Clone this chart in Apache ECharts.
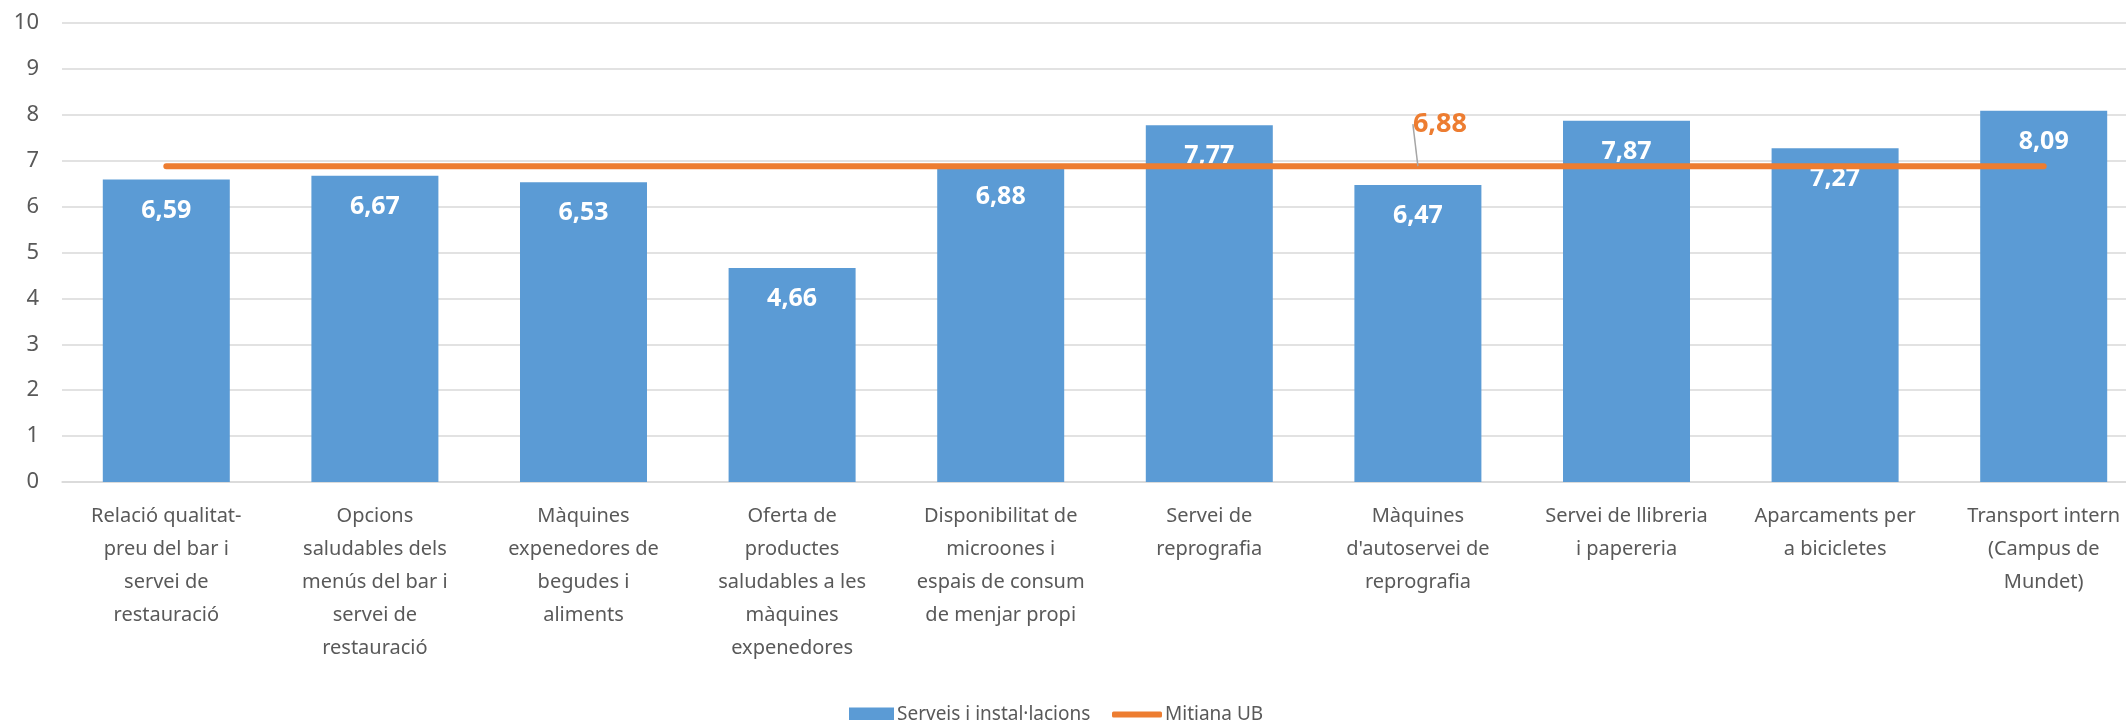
<!DOCTYPE html>
<html>
<head>
<meta charset="utf-8">
<script src="https://cdn.jsdelivr.net/npm/echarts@6/dist/echarts.min.js"></script>
<style>
  html, body { margin: 0; padding: 0; background: #fff; }
  #chart { width: 2126px; height: 720px; }
</style>
</head>
<body>
<div id="chart"></div>
<script>
// categories (line breaks as in the original axis)
const categories = [
  'Relació qualitat-\npreu del bar i\nservei de\nrestauració',
  'Opcions\nsaludables dels\nmenús del bar i\nservei de\nrestauració',
  'Màquines\nexpenedores de\nbegudes i\naliments',
  'Oferta de\nproductes\nsaludables a les\nmàquines\nexpenedores',
  'Disponibilitat de\nmicroones i\nespais de consum\nde menjar propi',
  'Servei de\nreprografia',
  'Màquines\nd\'autoservei de\nreprografia',
  'Servei de llibreria\ni papereria',
  'Aparcaments per\na bicicletes',
  'Transport intern\n(Campus de\nMundet)'
];
const serveis = [6.59, 6.67, 6.53, 4.66, 6.88, 7.77, 6.47, 7.87, 7.27, 8.09];
const mitjana = [6.88, 6.88, 6.88, 6.88, 6.88, 6.88, 6.88, 6.88, 6.88, 6.88];
const mitjanaLabelIndex = 6;

const font = 'Noto Sans';
const fmt = v => v.toFixed(2).replace('.', ',');

let chart = echarts.init(document.getElementById('chart'));
let option = {
  animation: false,
  textStyle: { fontFamily: font },
  // el gràfic original queda tallat per la dreta
  grid: { left: 62, top: 23, width: 2086, height: 459, outerBoundsMode: 'none' },
  legend: [
    {
      data: [{ name: 'Serveis i instal·lacions', icon: 'rect' }],
      left: 844, top: 700,
      itemWidth: 45, itemHeight: 14, itemGap: 4,
      textStyle: { color: '#595959', fontSize: 19, fontFamily: font, padding: [0, 0, 0, -2] }
    },
    {
      data: [{ name: 'Mitjana UB', icon: 'roundRect' }],
      left: 1107, top: 700,
      itemWidth: 50, itemHeight: 6,
      textStyle: { color: '#595959', fontSize: 19, fontFamily: font, padding: [0, 0, 0, -2] }
    }
  ],
  xAxis: {
    type: 'category',
    data: categories,
    axisTick: { show: false },
    axisLine: { lineStyle: { color: '#d9d9d9', width: 1.5 } },
    axisLabel: {
      interval: 0, margin: 18,
      color: '#595959', fontSize: 20, lineHeight: 33, fontFamily: font
    }
  },
  yAxis: {
    type: 'value',
    min: 0, max: 10, interval: 1,
    axisLine: { show: false },
    axisTick: { show: false },
    splitLine: { lineStyle: { color: '#d9d9d9', width: 1.5 } },
    axisLabel: { margin: 23, color: '#595959', fontSize: 22, fontFamily: font }
  },
  series: [
    {
      name: 'Serveis i instal·lacions',
      type: 'bar',
      data: serveis,
      barWidth: 127,
      itemStyle: { color: '#5b9bd5' },
      label: {
        show: true, position: 'insideTop', distance: 16,
        color: '#fff', fontWeight: 'bold', fontSize: 25, lineHeight: 30, fontFamily: font,
        formatter: p => fmt(p.value)
      }
    },
    {
      name: 'Mitjana UB',
      type: 'line',
      z: 5,
      data: mitjana.map((v, i) => i === mitjanaLabelIndex ? {
        value: v,
        label: {
          show: true, position: 'top', distance: 5,
          color: '#ed7d31', fontWeight: 'bold', fontSize: 27, lineHeight: 30, fontFamily: font,
          formatter: p => fmt(p.value)
        },
        labelLine: { show: true, lineStyle: { color: '#a6a6a6', width: 1.5 } }
      } : v),
      symbol: 'circle',
      symbolSize: 0,
      showSymbol: true,
      itemStyle: { color: '#ed7d31' },
      lineStyle: { color: '#ed7d31', width: 6, cap: 'round' },
      labelLayout: { dx: 22, dy: -22 }
    }
  ]
};

option && chart.setOption(option);
</script>
</body>
</html>
